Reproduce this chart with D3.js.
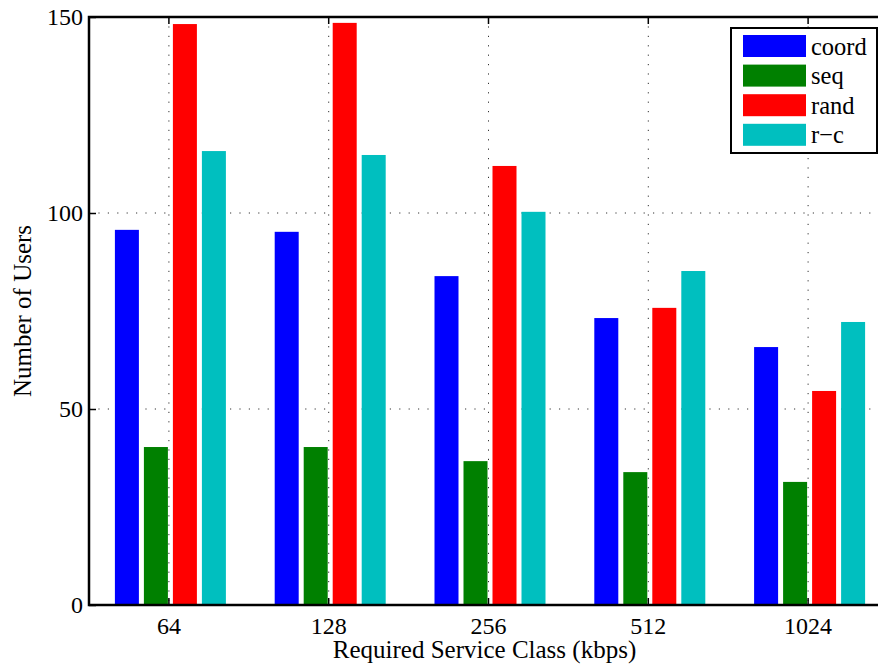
<!DOCTYPE html>
<html>
<head>
<meta charset="utf-8">
<script src="https://cdn.jsdelivr.net/npm/d3@7"></script>
<style>
  body { margin: 0; background: #fff; }
</style>
</head>
<body>
<div id="chart"></div>
<script>
'use strict';

// Kategóriák és sorozatok
var classes = ["64", "128", "256", "512", "1024"];
var seriesNames = ["coord", "seq", "rand", "r\u2212c"];
var seriesColors = ["#0000ff", "#008000", "#ff0000", "#00bfbf"];
var coord = [95.7, 95.2, 83.9, 73.2, 65.8];
var seq = [40.3, 40.3, 36.7, 33.9, 31.4];
var rand = [148.2, 148.5, 112.0, 75.8, 54.6];
var rc = [115.8, 114.8, 100.3, 85.2, 72.2];
var yTicks = [0, 50, 100, 150];

var series = [coord, seq, rand, rc];
var FONT = "Liberation Serif";

var W = 878, H = 670;
var margin = {top: 17, right: -10, bottom: 65, left: 89};
var width = W - margin.left - margin.right;
var height = H - margin.top - margin.bottom;

var svg = d3.select("#chart").append("svg")
    .attr("width", W)
    .attr("height", H)
    .attr("font-family", FONT);

var g = svg.append("g")
    .attr("transform", "translate(" + margin.left + "," + margin.top + ")");

// Skálák
var x = d3.scaleBand().domain(classes).range([0, width]).paddingInner(0).paddingOuter(0);
var step = 29, barW = 24;
var xSub = d3.scaleLinear().domain([0, 3]).range([-1.5 * step + 1.5, 1.5 * step + 1.5]);
var y = d3.scaleLinear().domain([0, 150]).range([height, 0]);

function cx(c) { return x(c) + x.bandwidth() / 2; }

// Rácsvonalak (a sávok alatt)
var grid = g.append("g").attr("class", "grid");
grid.selectAll("line.gx").data(classes).enter().append("line")
    .attr("x1", cx).attr("x2", cx)
    .attr("y1", 0).attr("y2", height)
    .attr("stroke", "#333").attr("stroke-width", 1)
    .attr("stroke-dasharray", "1.2,8.2");
grid.selectAll("line.gy").data(yTicks.filter(function(v) { return v > 0 && v < 150; })).enter().append("line")
    .attr("x1", 0).attr("x2", width)
    .attr("y1", y).attr("y2", y)
    .attr("stroke", "#333").attr("stroke-width", 1)
    .attr("stroke-dasharray", "1.2,8.2");

// Sávok
series.forEach(function(vals, s) {
    g.append("g").selectAll("rect").data(vals).enter().append("rect")
        .attr("x", function(d, i) { return cx(classes[i]) + xSub(s) - barW / 2; })
        .attr("y", function(d) { return y(d); })
        .attr("width", barW)
        .attr("height", function(d) { return height - y(d); })
        .attr("fill", seriesColors[s]);
});

// Tengelyek
var gy = g.append("g").call(d3.axisLeft(y).tickValues(yTicks).tickSize(-7).tickPadding(6));
gy.attr("font-family", FONT).attr("font-size", 24);
gy.select(".domain").remove();
gy.selectAll("line").attr("stroke-width", 1.5);

var gyR = g.append("g").attr("transform", "translate(" + width + ",0)")
    .call(d3.axisRight(y).tickValues(yTicks).tickSize(-7).tickFormat(""));
gyR.select(".domain").remove();

var gx = g.append("g").attr("transform", "translate(0," + height + ")")
    .call(d3.axisBottom(x).tickSize(-7));
gx.attr("font-family", FONT).attr("font-size", 24);
gx.select(".domain").remove();
gx.selectAll("text").attr("y", 29).attr("dy", 0);
gx.selectAll("line").attr("stroke-width", 1.5);

var gxT = g.append("g").call(d3.axisTop(x).tickSize(-7).tickFormat(""));
gxT.select(".domain").remove();
gxT.selectAll("line").attr("stroke-width", 1.5);

// Keret
g.append("rect")
    .attr("width", width).attr("height", height)
    .attr("fill", "none").attr("stroke", "#000").attr("stroke-width", 2.5);

// Tengelyfeliratok
svg.append("text")
    .attr("x", margin.left + cx("256") - 4)
    .attr("y", 658)
    .attr("text-anchor", "middle")
    .attr("font-size", 25)
    .text("Required Service Class (kbps)");

svg.append("text")
    .attr("transform", "translate(31,311) rotate(-90)")
    .attr("text-anchor", "middle")
    .attr("font-size", 25)
    .text("Number of Users");

// Jelkulcs
var legend = svg.append("g").attr("transform", "translate(731,28)");
legend.append("rect")
    .attr("width", 146).attr("height", 125)
    .attr("fill", "#fff").attr("stroke", "#000").attr("stroke-width", 2);
var items = legend.selectAll("g.item").data(seriesNames).enter().append("g")
    .attr("transform", function(d, i) { return "translate(12," + (7 + i * 29.6) + ")"; });
items.append("rect")
    .attr("width", 63).attr("height", 22)
    .attr("fill", function(d, i) { return seriesColors[i]; });
items.append("text")
    .attr("x", 68).attr("y", 11).attr("dy", "0.35em")
    .attr("font-size", 24.5)
    .text(function(d) { return d; });
</script>
</body>
</html>
